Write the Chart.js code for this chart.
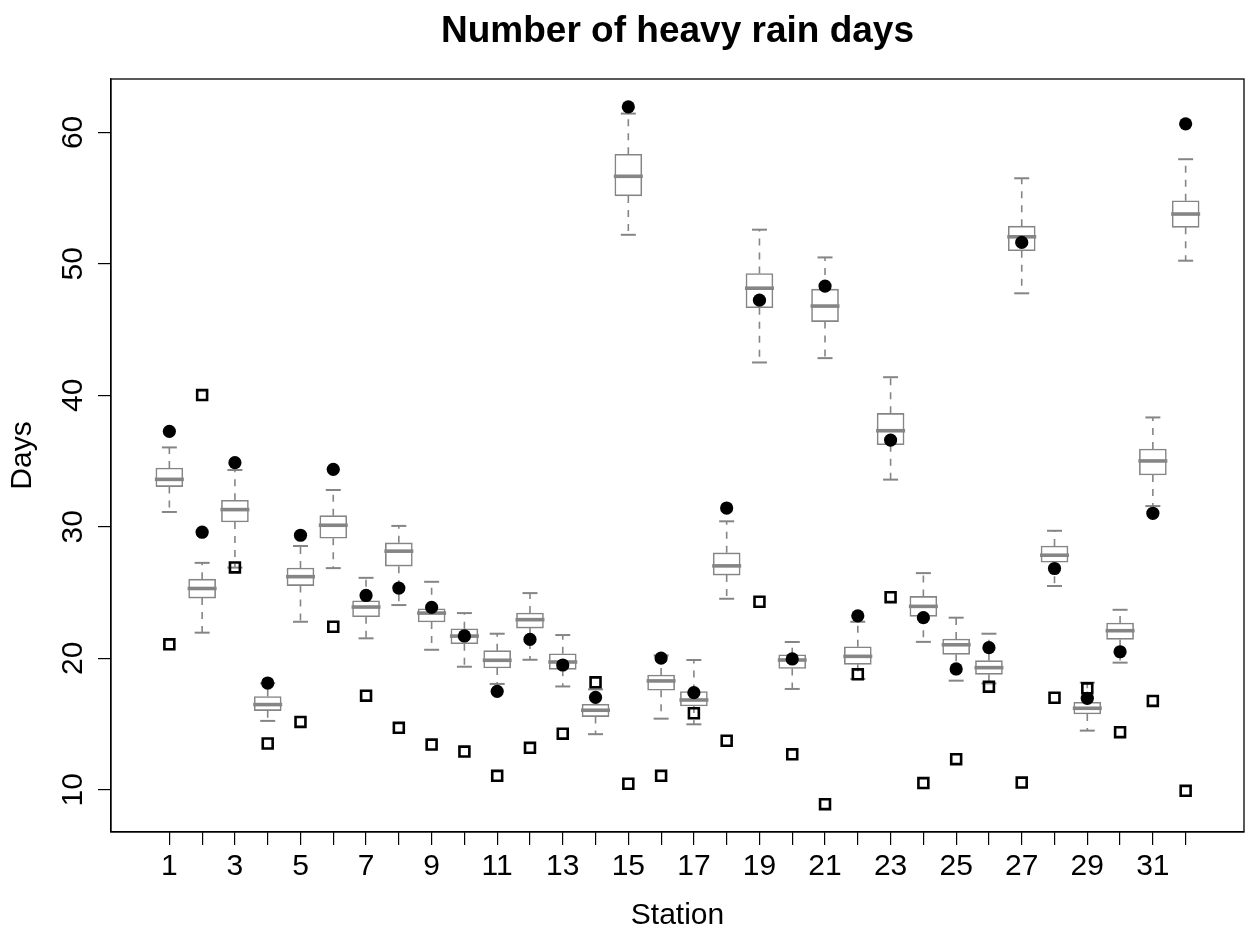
<!DOCTYPE html>
<html>
<head>
<meta charset="utf-8">
<title>Heavy rain days</title>
<script src="https://cdn.jsdelivr.net/npm/chart.js@4.4.1/dist/chart.umd.min.js"></script>
<style>
    body { margin: 0; background: #fff; }
    canvas { display: block; }
</style>
</head>
<body>
<canvas id="rainChart" width="1245" height="934"></canvas>
<script>
// stations along the x axis
const stations = [1, 2, 3, 4, 5, 6, 7, 8, 9, 10, 11, 12, 13, 14, 15, 16,
                  17, 18, 19, 20, 21, 22, 23, 24, 25, 26, 27, 28, 29, 30, 31, 32];

// box plot summary per station (whisker ends, quartiles, median)
const whiskerLow = [31.13, 21.95, 26.90, 15.24, 22.78, 26.86, 21.52, 24.05, 20.65, 19.36, 18.05, 19.89, 17.86, 14.23, 52.21, 15.41,
                    14.98, 24.53, 42.50, 17.67, 42.83, 18.43, 33.59, 21.25, 18.30, 18.09, 47.76, 25.50, 14.50, 19.67, 31.58, 50.24];
const quart1     = [33.06, 24.58, 30.37, 16.02, 25.53, 29.13, 23.16, 27.01, 22.76, 21.11, 19.26, 22.30, 19.16, 15.57, 55.17, 17.57,
                    16.38, 26.33, 46.66, 19.23, 45.61, 19.54, 36.25, 23.19, 20.30, 18.78, 51.00, 27.31, 15.77, 21.44, 33.94, 52.78];
const median     = [33.61, 25.31, 31.31, 16.48, 26.21, 30.12, 23.90, 28.15, 23.44, 21.69, 19.85, 22.94, 19.72, 16.05, 56.66, 18.28,
                    16.83, 27.03, 48.15, 19.87, 46.79, 20.15, 37.31, 23.95, 21.03, 19.29, 52.06, 27.84, 16.20, 22.10, 35.01, 53.79];
const quart3     = [34.47, 26.02, 32.02, 17.09, 26.87, 30.85, 24.37, 28.78, 23.77, 22.25, 20.58, 23.44, 20.35, 16.50, 58.33, 18.73,
                    17.47, 28.02, 49.26, 20.27, 48.08, 20.88, 38.63, 24.71, 21.47, 19.82, 52.87, 28.54, 16.66, 22.68, 35.92, 54.80];
const whiskerHigh = [36.04, 27.26, 34.32, 18.10, 28.54, 32.80, 26.12, 30.07, 25.82, 23.44, 21.87, 24.96, 21.77, 17.64, 61.43, 20.22,
                     19.87, 30.42, 52.60, 21.24, 50.49, 22.78, 41.38, 26.48, 23.09, 21.87, 56.51, 29.70, 18.15, 23.69, 38.32, 57.96];

// single values shown as filled circles and open squares
const circleDays = [37.26, 29.59, 34.88, 18.12, 29.36, 34.37, 24.78, 25.34, 23.87, 21.70, 17.49, 21.44, 19.49, 17.03, 61.94, 20.02,
                    17.39, 31.43, 47.24, 19.95, 48.31, 23.23, 36.60, 23.09, 19.19, 20.81, 51.63, 26.83, 16.96, 20.50, 31.03, 60.65];
const squareDays = [21.06, 40.02, 26.91, 13.52, 15.16, 22.40, 17.16, 14.71, 13.44, 12.91, 11.06, 13.19, 14.27, 18.17, 10.46, 11.06,
                    15.82, 13.73, 24.30, 12.70, 8.91, 18.78, 24.65, 10.51, 12.33, 17.84, 10.55, 17.00, 17.72, 14.38, 16.76, 9.92];

const yTicks = [10, 20, 30, 40, 50, 60];

const fontFamily = "'Liberation Sans', Arial, Helvetica, sans-serif";
const grey = '#858585';
const axisFont = { family: fontFamily, size: 30, lineHeight: 1.2 };

function pts(values) {
    return stations.map(function (s, i) { return { x: s, y: values[i] }; });
}

// whisker segments: box edge out to the cap, with a gap between each
let whiskerPts = [];
stations.forEach(function (s, i) {
    whiskerPts.push({ x: s, y: quart3[i] }, { x: s, y: whiskerHigh[i] }, { x: s, y: null });
    whiskerPts.push({ x: s, y: quart1[i] }, { x: s, y: whiskerLow[i] }, { x: s, y: null });
});

// draw a full box round the plot region
const plotFrame = {
    id: 'plotFrame',
    afterDraw: function (chart) {
        const a = chart.chartArea;
        const ctx = chart.ctx;
        ctx.save();
        ctx.strokeStyle = '#000';
        ctx.lineWidth = 1.3;
        ctx.strokeRect(a.left, a.top, a.right - a.left, a.bottom - a.top);
        ctx.restore();
    }
};

const ctx = document.getElementById('rainChart').getContext('2d');
const rainChart = new Chart(ctx, {
    type: 'bar',
    data: {
        datasets: [{
            type: 'scatter',
            label: 'circle',
            data: pts(circleDays),
            pointStyle: 'circle',
            pointRadius: 6.6,
            borderWidth: 0,
            backgroundColor: '#000'
        }, {
            type: 'scatter',
            label: 'square',
            data: pts(squareDays),
            pointStyle: 'rect',
            pointRadius: 7,
            borderWidth: 2.6,
            borderColor: '#000',
            backgroundColor: 'rgba(0,0,0,0)'
        }, {
            type: 'scatter',
            label: 'median',
            data: pts(median),
            pointStyle: 'line',
            pointRadius: 14.5,
            borderWidth: 3.6,
            borderColor: grey
        }, {
            type: 'scatter',
            label: 'upper cap',
            data: pts(whiskerHigh),
            pointStyle: 'line',
            pointRadius: 7.5,
            borderWidth: 2,
            borderColor: grey
        }, {
            type: 'scatter',
            label: 'lower cap',
            data: pts(whiskerLow),
            pointStyle: 'line',
            pointRadius: 7.5,
            borderWidth: 2,
            borderColor: grey
        }, {
            type: 'bar',
            label: 'box',
            data: stations.map(function (s, i) { return { x: s, y: [quart1[i], quart3[i]] }; }),
            backgroundColor: '#fff',
            borderColor: grey,
            borderWidth: 1.6,
            borderSkipped: false,
            barThickness: 27
        }, {
            type: 'line',
            label: 'whisker',
            data: whiskerPts,
            borderColor: grey,
            borderWidth: 1.6,
            borderDash: [7, 7],
            pointRadius: 0,
            spanGaps: false,
            fill: false
        }]
    },
    options: {
        responsive: false,
        animation: false,
        devicePixelRatio: 1,
        layout: { autoPadding: false, padding: { left: 0, right: 1, top: 0, bottom: 0 } },
        plugins: {
            legend: { display: false },
            tooltip: { enabled: false },
            title: {
                display: true,
                text: 'Number of heavy rain days',
                color: '#000',
                fullSize: false,
                font: { family: fontFamily, size: 37, weight: 'bold', lineHeight: 1.2 },
                padding: { top: 9.8, bottom: 24.8 }
            }
        },
        scales: {
            x: {
                type: 'linear',
                min: -0.78,
                max: 33.78,
                offset: false,
                afterBuildTicks: function (scale) {
                    scale.ticks = stations.map(function (v) { return { value: v }; });
                },
                afterFit: function (scale) { scale.height = 102; },
                grid: { offset: false, drawOnChartArea: false, tickLength: 13, color: '#000', lineWidth: 1.2 },
                border: { color: '#000', width: 1.2 },
                ticks: {
                    autoSkip: false,
                    maxRotation: 0,
                    padding: 4,
                    color: '#000',
                    font: axisFont,
                    callback: function (v) { return v % 2 === 1 ? String(v) : ''; }
                },
                title: { display: true, text: 'Station', color: '#000', font: axisFont, padding: { top: 0, bottom: 0 } }
            },
            y: {
                type: 'linear',
                min: 6.79,
                max: 64.06,
                afterBuildTicks: function (scale) {
                    scale.ticks = yTicks.map(function (v) { return { value: v }; });
                },
                afterFit: function (scale) { scale.width = 111; },
                grid: { drawOnChartArea: false, tickLength: 13, color: '#000', lineWidth: 1.2 },
                border: { color: '#000', width: 1.2 },
                ticks: {
                    minRotation: 90,
                    maxRotation: 90,
                    crossAlign: 'center',
                    padding: 8,
                    color: '#000',
                    font: axisFont
                },
                title: { display: true, text: 'Days', color: '#000', font: axisFont, padding: { top: 5, bottom: 0 } }
            }
        }
    },
    plugins: [plotFrame]
});
</script>
</body>
</html>
